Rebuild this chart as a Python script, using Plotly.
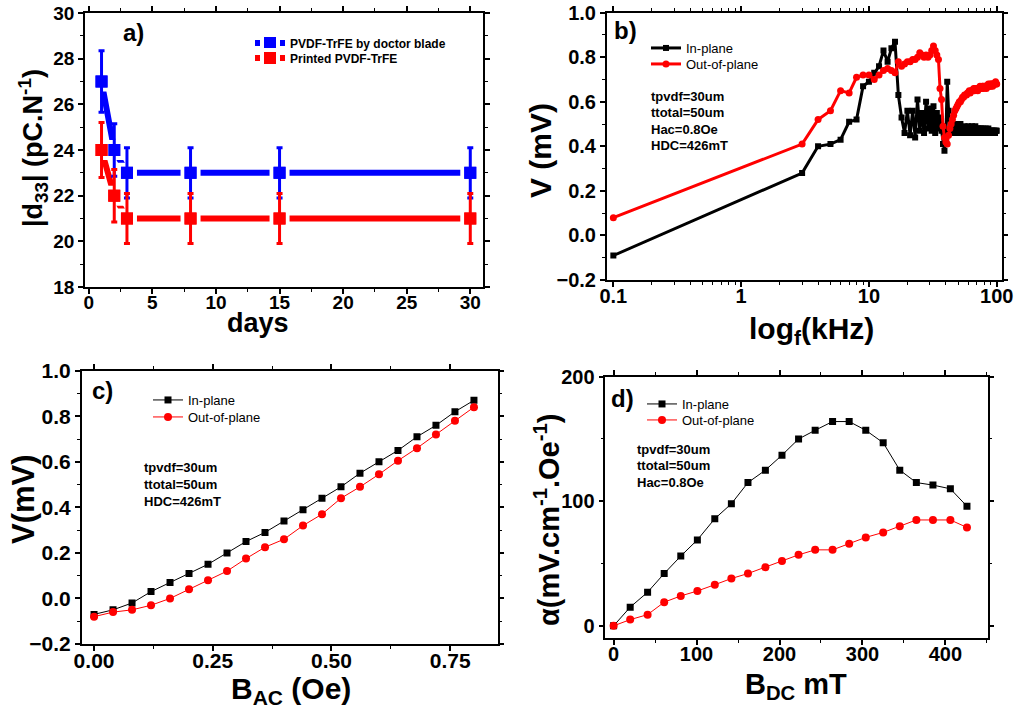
import plotly.graph_objects as go

W, H = 1016, 711


def px(x):
    return x / W


def py(y):
    return 1 - y / H


# ---------------- data ----------------
# a) d33 vs days
days = [1, 2, 3, 8, 15, 30]
d33_blade = [27, 24, 23, 23, 23, 23]
d33_blade_err = [1.35, 1.15, 1.1, 1.1, 1.1, 1.1]
d33_printed = [24, 22, 21, 21, 21, 21]
d33_printed_err = [1.2, 1.15, 1.1, 1.1, 1.1, 1.1]

# b) V vs frequency (kHz)
freq_khz = [0.1] + list(range(3, 101))
v_inplane_f = [
    -0.09,
    0.28, 0.40, 0.41, 0.43, 0.51, 0.52, 0.67, 0.69, 0.73, 0.76,
    0.83, 0.78, 0.84, 0.87, 0.63, 0.53, 0.46, 0.56, 0.45, 0.56,
    0.44, 0.61, 0.47, 0.55, 0.46, 0.60, 0.48, 0.57, 0.47, 0.58,
    0.46, 0.55, 0.48, 0.53, 0.47, 0.41, 0.38, 0.44, 0.69, 0.56,
    0.47, 0.50, 0.46, 0.49, 0.47, 0.50, 0.46, 0.48, 0.47, 0.50,
    0.46, 0.48, 0.47, 0.49, 0.46, 0.48, 0.47, 0.49, 0.46, 0.48,
    0.47, 0.49, 0.47, 0.48, 0.46, 0.49, 0.47, 0.48, 0.46, 0.48,
    0.47, 0.48, 0.46, 0.48, 0.47, 0.48, 0.46, 0.47, 0.47, 0.48,
    0.46, 0.47, 0.47, 0.48, 0.46, 0.47, 0.47, 0.47, 0.46, 0.47,
    0.47, 0.46, 0.47, 0.47, 0.46, 0.47, 0.47, 0.47,
]
v_outplane_f = [
    0.08,
    0.41, 0.52, 0.56, 0.65, 0.64, 0.71, 0.72, 0.72, 0.70, 0.72,
    0.74, 0.75, 0.74, 0.73, 0.78, 0.76, 0.77, 0.78, 0.78, 0.79,
    0.79, 0.80, 0.82, 0.81, 0.80, 0.81, 0.80, 0.81, 0.83, 0.85,
    0.83, 0.81, 0.79, 0.66, 0.61, 0.49, 0.44, 0.42, 0.41, 0.45,
    0.48, 0.50, 0.52, 0.54, 0.56, 0.57, 0.58, 0.59, 0.60, 0.60,
    0.61, 0.62, 0.62, 0.63, 0.63, 0.63, 0.64, 0.64, 0.65, 0.64,
    0.65, 0.65, 0.65, 0.66, 0.65, 0.66, 0.66, 0.66, 0.65, 0.66,
    0.66, 0.67, 0.66, 0.66, 0.67, 0.67, 0.66, 0.67, 0.67, 0.67,
    0.66, 0.67, 0.67, 0.68, 0.67, 0.67, 0.68, 0.67, 0.68, 0.68,
    0.67, 0.68, 0.68, 0.68, 0.68, 0.69, 0.68, 0.68,
]

# c) V vs B_AC
b_ac = [0.00, 0.04, 0.08, 0.12, 0.16, 0.20, 0.24, 0.28, 0.32, 0.36, 0.40,
        0.44, 0.48, 0.52, 0.56, 0.60, 0.64, 0.68, 0.72, 0.76, 0.80]
v_inplane_ac = [-0.07, -0.05, -0.02, 0.03, 0.07, 0.11, 0.15, 0.20, 0.25, 0.29, 0.34,
                0.39, 0.44, 0.49, 0.55, 0.60, 0.65, 0.71, 0.76, 0.82, 0.87]
v_outplane_ac = [-0.08, -0.06, -0.05, -0.03, 0.00, 0.04, 0.08, 0.12, 0.175, 0.225, 0.26,
                 0.32, 0.37, 0.44, 0.49, 0.545, 0.605, 0.66, 0.72, 0.78, 0.84]

# d) alpha vs B_DC
b_dc = [0, 20, 41, 61, 81, 101, 122, 142, 162, 183, 203,
        223, 243, 264, 284, 304, 325, 345, 365, 385, 406, 426]
alpha_inplane = [0, 15, 27, 42, 56, 69, 86, 98, 115, 125, 137,
                 150, 157, 164, 164, 157, 147, 125, 115, 113, 110, 96]
alpha_outplane = [0, 5, 9, 19, 24, 28, 33, 38, 42, 47, 52,
                  57, 61, 61, 66, 71, 75, 80, 85, 85, 85, 79]

# tick values
ticks_days = [0, 5, 10, 15, 20, 25, 30]
ticks_d33 = [18, 20, 22, 24, 26, 28, 30]
ticks_freq = [0.1, 1, 10, 100]
ticklabels_freq = ["0.1", "1", "10", "100"]
ticks_v = [-0.2, 0, 0.2, 0.4, 0.6, 0.8, 1.0]
ticks_bac = [0, 0.25, 0.5, 0.75]
ticks_bdc = [0, 100, 200, 300, 400]
ticks_alpha = [0, 100, 200]

# ---------------- styling ----------------
FONT = "Liberation Sans, Arial, sans-serif"
BLUE = "#0000FF"
RED = "#FF0000"
BLACK = "#000000"

fig = go.Figure()

# ---- panel a ----
fig.add_trace(go.Scatter(
    x=days, y=d33_blade, mode="lines+markers", name="PVDF-TrFE by doctor blade",
    line=dict(color=BLUE, width=6),
    marker=dict(symbol="square", size=16, color=BLUE, line=dict(color="white", width=4)),
    xaxis="x", yaxis="y", legend="legend"))
fig.add_trace(go.Scatter(
    x=days, y=d33_printed, mode="lines+markers", name="Printed PVDF-TrFE",
    line=dict(color=RED, width=6),
    marker=dict(symbol="square", size=16, color=RED, line=dict(color="white", width=4)),
    xaxis="x", yaxis="y", legend="legend2"))
fig.add_trace(go.Scatter(
    x=days, y=d33_blade, mode="markers", showlegend=False,
    marker=dict(symbol="square", size=12, color=BLUE),
    error_y=dict(type="data", array=d33_blade_err, color=BLUE, thickness=3, width=3),
    xaxis="x", yaxis="y"))
fig.add_trace(go.Scatter(
    x=days, y=d33_printed, mode="markers", showlegend=False,
    marker=dict(symbol="square", size=12, color=RED),
    error_y=dict(type="data", array=d33_printed_err, color=RED, thickness=3, width=3),
    xaxis="x", yaxis="y"))

# ---- panel b ----
fig.add_trace(go.Scatter(
    x=freq_khz, y=v_inplane_f, mode="lines+markers", name="In-plane",
    line=dict(color=BLACK, width=3),
    marker=dict(symbol="square", size=6, color=BLACK),
    xaxis="x2", yaxis="y2", legend="legend3"))
fig.add_trace(go.Scatter(
    x=freq_khz, y=v_outplane_f, mode="lines+markers", name="Out-of-plane",
    line=dict(color=RED, width=3),
    marker=dict(symbol="circle", size=7, color=RED),
    xaxis="x2", yaxis="y2", legend="legend4"))

# ---- panel c ----
fig.add_trace(go.Scatter(
    x=b_ac, y=v_inplane_ac, mode="lines+markers", name="In-plane",
    line=dict(color=BLACK, width=1),
    marker=dict(symbol="square", size=7, color=BLACK),
    xaxis="x3", yaxis="y3", legend="legend5"))
fig.add_trace(go.Scatter(
    x=b_ac, y=v_outplane_ac, mode="lines+markers", name="Out-of-plane",
    line=dict(color=RED, width=1),
    marker=dict(symbol="circle", size=8, color=RED),
    xaxis="x3", yaxis="y3", legend="legend6"))

# ---- panel d ----
fig.add_trace(go.Scatter(
    x=b_dc, y=alpha_inplane, mode="lines+markers", name="In-plane",
    line=dict(color=BLACK, width=1),
    marker=dict(symbol="square", size=7, color=BLACK),
    xaxis="x4", yaxis="y4", legend="legend7"))
fig.add_trace(go.Scatter(
    x=b_dc, y=alpha_outplane, mode="lines+markers", name="Out-of-plane",
    line=dict(color=RED, width=1),
    marker=dict(symbol="circle", size=8, color=RED),
    xaxis="x4", yaxis="y4", legend="legend8"))


def ax(domain, rng, size, **kw):
    d = dict(domain=domain, range=rng, showline=True, linecolor=BLACK, linewidth=1.5,
             mirror="allticks", ticks="outside", ticklen=5, tickwidth=1.5, tickcolor=BLACK,
             showgrid=False, zeroline=False, automargin=False,
             tickfont=dict(family=FONT, size=size, color=BLACK, weight="bold"))
    d.update(kw)
    return d


minor = dict(ticks="outside", ticklen=3, tickwidth=1.2, tickcolor=BLACK, showgrid=False)

log_minor = [v * m for m in (0.1, 1, 10) for v in range(2, 10)]
XSTAND = -8

fig.update_layout(
    width=W, height=H, margin=dict(l=0, r=0, t=0, b=0, pad=0, autoexpand=False),
    paper_bgcolor="white", plot_bgcolor="white",
    font=dict(family=FONT, color=BLACK),
    xaxis=ax([px(85), px(483)], [-0.3, 31], 19, anchor="y", ticklabelstandoff=XSTAND,
             tickvals=ticks_days, minor=dict(dtick=2.5, **minor)),
    yaxis=ax([py(287), py(13)], [18, 30], 19, anchor="x",
             tickvals=ticks_d33, minor=dict(dtick=1, **minor)),
    xaxis2=ax([px(606.7), px(1001.7)], [-1.052, 2.039], 20, anchor="y2", type="log",
              ticklabelstandoff=XSTAND, tickvals=ticks_freq, ticktext=ticklabels_freq,
              minor=dict(tickvals=log_minor, **minor)),
    yaxis2=ax([py(280), py(12.7)], [-0.2, 1.0], 20, anchor="x2",
              tickvals=ticks_v, tickformat=".1f", minor=dict(dtick=0.1, tick0=0, **minor)),
    xaxis3=ax([px(81.7), px(497.7)], [-0.026, 0.85], 21, anchor="y3",
              ticklabelstandoff=XSTAND, tickvals=ticks_bac, tickformat=".2f",
              minor=dict(dtick=0.125, tick0=0, **minor)),
    yaxis3=ax([py(644), py(370.7)], [-0.2, 1.0], 21, anchor="x3",
              tickvals=ticks_v, tickformat=".1f", minor=dict(dtick=0.1, tick0=0, **minor)),
    xaxis4=ax([px(605.3), px(987.7)], [-10, 451], 20, anchor="y4",
              ticklabelstandoff=XSTAND, tickvals=ticks_bdc,
              minor=dict(dtick=50, tick0=0, **minor)),
    yaxis4=ax([py(638.3), py(376.7)], [-10, 200], 20, anchor="x4",
              tickvals=ticks_alpha, minor=dict(dtick=50, tick0=0, **minor)),
)


def leg(x, y, size, bold):
    return dict(x=px(x), y=py(y), xanchor="left", yanchor="middle",
                bgcolor="rgba(0,0,0,0)", borderwidth=0, itemwidth=30,
                font=dict(family=FONT, size=size, color=BLACK,
                          weight="bold" if bold else "normal"))


fig.update_layout(
    legend=leg(250, 43, 12, True),
    legend2=leg(250, 58, 12, True),
    legend3=leg(646, 48, 13, False),
    legend4=leg(646, 64, 13, False),
    legend5=leg(148, 400, 13, False),
    legend6=leg(148, 417, 13, False),
    legend7=leg(642, 404, 13, False),
    legend8=leg(642, 420, 13, False),
)

annotations = []


def txt(x, y, s, size, bold=True, angle=0, xanchor="center"):
    annotations.append(dict(
        x=px(x), y=py(y), xref="paper", yref="paper", text=s, showarrow=False,
        xanchor=xanchor, yanchor="middle", textangle=angle,
        font=dict(family=FONT, size=size, color=BLACK, weight="bold" if bold else "normal")))


# panel labels
txt(133, 33, "a)", 24)
txt(625, 30, "b)", 24)
txt(102, 390, "c)", 24)
txt(622, 398, "d)", 24)

# axis titles
txt(33, 148, "|d<sub>33</sub>| (pC.N<sup>-1</sup>)", 27, angle=-90)
txt(258, 323, "days", 27)
txt(540, 151, "V (mV)", 30, angle=-90)
txt(811, 331, "log<sub>f</sub>(kHz)", 30)
txt(23, 499, "V(mV)", 31, angle=-90)
txt(291, 690, "B<sub>AC</sub> (Oe)", 30)
txt(547, 520, "α(mV.cm<sup>-1</sup>.Oe<sup>-1</sup>)", 29, angle=-90)
txt(796, 686, "B<sub>DC</sub> mT", 29)

# parameter notes
for i, s in enumerate(["tpvdf=30um", "ttotal=50um", "Hac=0.8Oe", "HDC=426mT"]):
    txt(649, 96 + i * 16.6, s, 13, xanchor="left")
for i, s in enumerate(["tpvdf=30um", "ttotal=50um", "HDC=426mT"]):
    txt(142, 467 + i * 17, s, 13, xanchor="left")
for i, s in enumerate(["tpvdf=30um", "ttotal=50um", "Hac=0.8Oe"]):
    txt(635, 449 + i * 16.5, s, 13, xanchor="left")

fig.update_layout(annotations=annotations)

fig.write_html("out.html")
